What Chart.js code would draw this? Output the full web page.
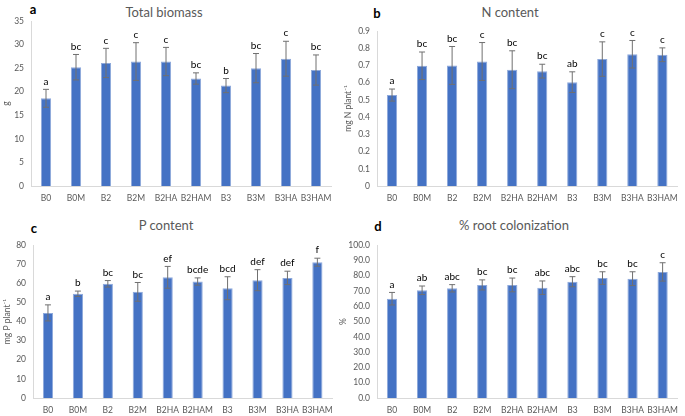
<!DOCTYPE html>
<html>
<head>
<meta charset="utf-8">
<script src="https://cdn.jsdelivr.net/npm/chart.js@4"></script>
<style>
  body { margin: 0; background: #fff; width: 685px; height: 416px; position: relative; overflow: hidden; font-family: Lato, sans-serif; }
  .panel { position: absolute; }
  .title { position: absolute; color: #595959; font-size: 13px; transform: translate(-50%, -50%); white-space: nowrap; }
  .tag { position: absolute; font-weight: bold; font-size: 13px; color: #000; transform: translate(-50%, -50%); }
</style>
</head>
<body>

<div class="tag" style="left:33px;top:9px">a</div>
<div class="title" style="left:164px;top:12px">Total biomass</div>
<div class="tag" style="left:377px;top:13px">b</div>
<div class="title" style="left:510px;top:12px">N content</div>
<div class="tag" style="left:34px;top:228px">c</div>
<div class="title" style="left:166px;top:225px">P content</div>
<div class="tag" style="left:378px;top:226px">d</div>
<div class="title" style="left:514px;top:225px">% root colonization</div>

<div class="panel" style="left:0;top:0"><canvas id="chartA" width="340" height="208"></canvas></div>
<div class="panel" style="left:338px;top:0"><canvas id="chartB" width="347" height="208"></canvas></div>
<div class="panel" style="left:0;top:208px"><canvas id="chartC" width="340" height="208"></canvas></div>
<div class="panel" style="left:338px;top:208px"><canvas id="chartD" width="347" height="208"></canvas></div>

<script>
// treatments
const categories = ['B0', 'B0M', 'B2', 'B2M', 'B2HA', 'B2HAM', 'B3', 'B3M', 'B3HA', 'B3HAM'];

// a - total biomass (g)
const biomass = [18.6, 25.2, 26.1, 26.4, 26.4, 22.8, 21.3, 25.0, 27.0, 24.6];
const biomassErr = [1.9, 2.7, 3.1, 4.0, 3.0, 1.2, 1.5, 3.1, 3.7, 3.2];
const biomassLetters = ['a', 'bc', 'c', 'c', 'c', 'bc', 'b', 'bc', 'c', 'bc'];

// b - N content (mg N plant-1)
const nContent = [0.528, 0.698, 0.700, 0.723, 0.675, 0.667, 0.603, 0.737, 0.765, 0.762];
const nErr = [0.035, 0.08, 0.11, 0.11, 0.11, 0.04, 0.06, 0.10, 0.08, 0.04];
const nLetters = ['a', 'bc', 'bc', 'c', 'bc', 'bc', 'ab', 'c', 'c', 'c'];

// c - P content (mg P plant-1)
const pContent = [44.5, 54.5, 59.7, 55.5, 63.1, 60.9, 57.4, 61.6, 62.8, 71.0];
const pErr = [4.2, 1.4, 1.7, 4.9, 5.7, 1.9, 6.0, 5.5, 3.5, 2.1];
const pLetters = ['a', 'b', 'bc', 'bc', 'ef', 'bcde', 'bcd', 'def', 'def', 'f'];

// d - root colonization (%)
const rootCol = [64.9, 70.4, 71.7, 73.9, 73.9, 72.1, 76.0, 78.4, 78.0, 82.4];
const rootErr = [4.1, 2.8, 2.4, 3.3, 4.5, 4.4, 3.3, 4.1, 4.5, 6.0];
const rootLetters = ['a', 'ab', 'abc', 'bc', 'bc', 'abc', 'abc', 'bc', 'bc', 'c'];

const barColor = '#4472C4';
const greyText = '#595959';

// error bars + significance letters
const errorLetterPlugin = {
    id: 'errorLetters',
    afterDatasetsDraw(chart, args, opts) {
        const ctx = chart.ctx;
        const meta = chart.getDatasetMeta(0);
        const y = chart.scales.y;
        const values = chart.data.datasets[0].data;
        ctx.save();
        meta.data.forEach((bar, i) => {
            const x = bar.x;
            const top = y.getPixelForValue(values[i] + opts.err[i]);
            const bottom = y.getPixelForValue(values[i] - opts.err[i]);
            ctx.strokeStyle = '#707070';
            ctx.lineWidth = 1;
            ctx.beginPath();
            ctx.moveTo(x, top);
            ctx.lineTo(x, bottom);
            ctx.moveTo(x - 3, top);
            ctx.lineTo(x + 3, top);
            ctx.moveTo(x - 3, bottom);
            ctx.lineTo(x + 3, bottom);
            ctx.stroke();

            ctx.fillStyle = '#000';
            ctx.font = '10px Lato, sans-serif';
            ctx.textAlign = 'center';
            ctx.textBaseline = 'bottom';
            ctx.fillText(opts.letters[i], x, top - 3);
        });
        ctx.restore();
    }
};

function makeChart(id, values, err, letters, setup) {
    const ctx = document.getElementById(id).getContext('2d');
    return new Chart(ctx, {
        type: 'bar',
        data: {
            labels: categories,
            datasets: [{
                data: values,
                backgroundColor: barColor,
                borderColor: '#8EA9DB',
                borderWidth: 1,
                barPercentage: 0.34,
                categoryPercentage: 1
            }]
        },
        options: {
            responsive: false,
            animation: false,
            layout: {
                padding: { top: setup.top, right: setup.right, left: 0, bottom: 0 }
            },
            scales: {
                x: {
                    grid: { display: false, drawTicks: false },
                    border: { color: '#d9d9d9' },
                    ticks: {
                        color: greyText,
                        font: { family: 'Lato', size: 8.5 },
                        padding: 7,
                        maxRotation: 0,
                        autoSkip: false
                    },
                    afterFit(scale) { scale.height = setup.xHeight; }
                },
                y: {
                    min: 0,
                    max: setup.max,
                    grid: { display: false, drawTicks: false },
                    border: { color: '#d9d9d9' },
                    ticks: {
                        stepSize: setup.step,
                        color: greyText,
                        font: { family: 'Lato', size: 8.5 },
                        padding: 7,
                        callback: setup.fmt
                    },
                    title: {
                        display: true,
                        text: setup.yTitle,
                        color: greyText,
                        font: { family: 'Lato', size: 8.5 },
                        padding: { top: setup.titlePad, bottom: 0 }
                    },
                    afterFit(scale) { scale.width = setup.yWidth; }
                }
            },
            plugins: {
                legend: { display: false },
                tooltip: { enabled: false },
                errorLetters: { err: err, letters: letters }
            }
        },
        plugins: [errorLetterPlugin]
    });
}

makeChart('chartA', biomass, biomassErr, biomassLetters,
    { top: 21, right: 9, xHeight: 22, yWidth: 31, max: 35, step: 5, yTitle: 'g', titlePad: 1 });
makeChart('chartB', nContent, nErr, nLetters,
    { top: 31, right: 7, xHeight: 22, yWidth: 39, max: 0.9, step: 0.1, yTitle: 'mg N plant⁻¹', titlePad: 5,
      fmt: v => v === 0 ? '0' : v.toFixed(1) });
makeChart('chartC', pContent, pErr, pLetters,
    { top: 37, right: 7, xHeight: 18, yWidth: 33, max: 80, step: 10, yTitle: 'mg P plant⁻¹', titlePad: 2 });
makeChart('chartD', rootCol, rootErr, rootLetters,
    { top: 37, right: 2, xHeight: 18, yWidth: 39, max: 100, step: 10, yTitle: '%', titlePad: 0,
      fmt: v => v.toFixed(1) });
</script>
</body>
</html>
